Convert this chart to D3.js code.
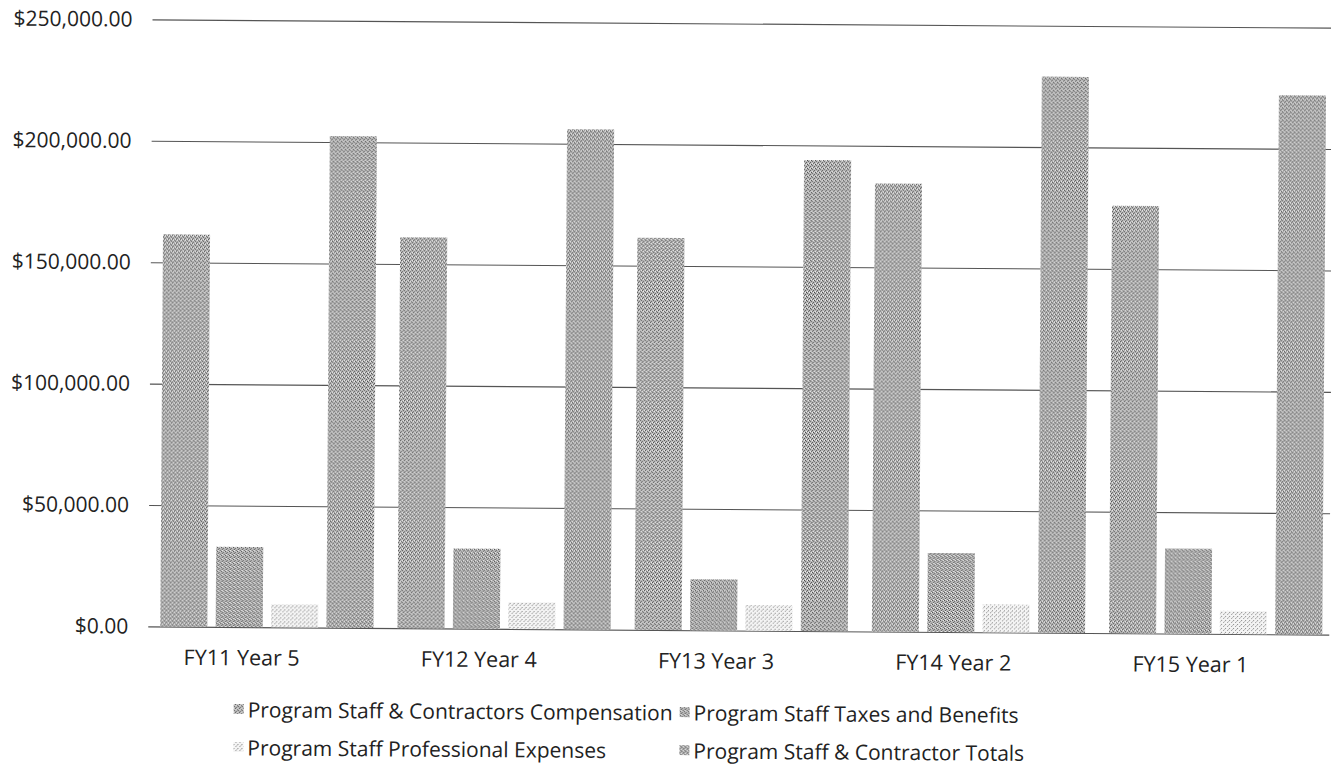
<!DOCTYPE html>
<html>
<head>
<meta charset="utf-8">
<script src="https://cdn.jsdelivr.net/npm/d3@7"></script>
<style>
  body{margin:0;background:#fff;}
  text{font-family:"Open Sans", sans-serif;fill:#222;}
</style>
</head>
<body>
<div id="canvas" class="canvas" style="width:1331px;height:769px"></div>
<script>
// data
var years = ['FY11 Year 5','FY12 Year 4','FY13 Year 3','FY14 Year 2','FY15 Year 1'];
var seriesNames = ['Program Staff & Contractors Compensation','Program Staff Taxes and Benefits',
    'Program Staff Professional Expenses','Program Staff & Contractor Totals'];
var compensation = [161500, 161000, 161500, 184500, 176000];
var taxes = [33000, 33000, 21000, 32500, 35000];
var profExpenses = [9500, 11000, 10500, 11500, 9500];
var totals = [202500, 206000, 194000, 229000, 222000];
var yTicks = [0, 50000, 100000, 150000, 200000, 250000];

var W = 1331, H = 769;
var m = {t:23, l:150, r:1336, b:630};

var svg = d3.select('.canvas').append('svg')
    .attr('width', W).attr('height', H);

// dither-like patterns to look like the scan
var defs = svg.append('defs');
function makePattern(id, bg, dots){
    var p = defs.append('pattern').attr('id', id)
        .attr('patternUnits','userSpaceOnUse')
        .attr('width',4).attr('height',4);
    p.append('rect').attr('width',4).attr('height',4).attr('fill',bg);
    dots.forEach(function(d){
        p.append('rect').attr('x',d[0]).attr('y',d[1]).attr('width',1).attr('height',1).attr('fill',d[2]);
    });
}
makePattern('pat0','#bcbcbc',[[0,0,'#555'],[2,1,'#666'],[1,2,'#444'],[3,3,'#666'],[2,3,'#f4f4f4'],[0,2,'#f4f4f4']]);
makePattern('pat1','#b8b8b8',[[1,0,'#555'],[3,1,'#666'],[0,2,'#444'],[2,3,'#666'],[3,2,'#f4f4f4'],[1,1,'#f4f4f4']]);
makePattern('pat2','#f4f4f4',[[0,0,'#888'],[2,2,'#999'],[3,1,'#bbb']]);
makePattern('pat3','#bababa',[[0,1,'#555'],[2,0,'#666'],[1,3,'#444'],[3,2,'#666'],[2,2,'#f4f4f4'],[0,3,'#f4f4f4']]);

// slight tilt like the scan
var g = svg.append('g').attr('transform','rotate(0.4,665,380)');

var y = d3.scaleLinear().domain([0,250000]).range([m.b, m.t]);
var x0 = d3.scaleBand().domain(years).range([m.l, m.r]).padding(0);
var x1 = d3.scaleBand().domain(d3.range(4)).range([12, x0.bandwidth()-12]).paddingInner(0.15);

var fmt = function(v){ return '$' + d3.format(',.2f')(v); };

// gridlines + y labels
var yAxis = g.append('g').attr('class','y-axis')
    .attr('transform','translate('+m.l+',0)')
    .call(d3.axisLeft(y).tickValues(yTicks).tickFormat(fmt).tickSize(-(W - m.l)).tickPadding(20));
yAxis.select('.domain').remove();
yAxis.selectAll('.tick line').attr('stroke','#555').attr('stroke-width',1.1);
yAxis.selectAll('.tick text').style('font-size','21px').attr('fill','#222');

// bars
var rows = years.map(function(d,i){
    return {year:d, vals:[compensation[i], taxes[i], profExpenses[i], totals[i]]};
});
var groups = g.selectAll('.grp').data(rows).enter().append('g').attr('class','grp')
    .attr('transform', function(d){ return 'translate('+x0(d.year)+',0)'; });
groups.selectAll('rect').data(function(d){ return d.vals; }).enter().append('rect')
    .attr('x', function(d,i){ return x1(i); })
    .attr('width', x1.bandwidth())
    .attr('y', function(d){ return y(d); })
    .attr('height', function(d){ return y(0) - y(d); })
    .attr('fill', function(d,i){ return 'url(#pat'+i+')'; });

// category labels
var xAxis = g.append('g').attr('transform','translate(0,'+m.b+')')
    .call(d3.axisBottom(x0).tickSize(0).tickPadding(23));
xAxis.select('.domain').remove();
xAxis.selectAll('.tick text').attr('dx',-25).style('font-size','21.5px').attr('fill','#222');

// legend
var legPos = [[236,713],[682,713],[236,751],[682,751]];
var leg = g.selectAll('.leg').data(seriesNames).enter().append('g').attr('class','leg')
    .attr('transform', function(d,i){ return 'translate('+legPos[i][0]+','+legPos[i][1]+')'; });
leg.append('rect').attr('x',0).attr('y',-6).attr('width',10).attr('height',10)
    .attr('fill', function(d,i){ return 'url(#pat'+i+')'; });
leg.append('text').attr('x',14).attr('dy','0.35em')
    .style('font-size','21px').text(function(d){ return d; });
</script>
</body>
</html>
